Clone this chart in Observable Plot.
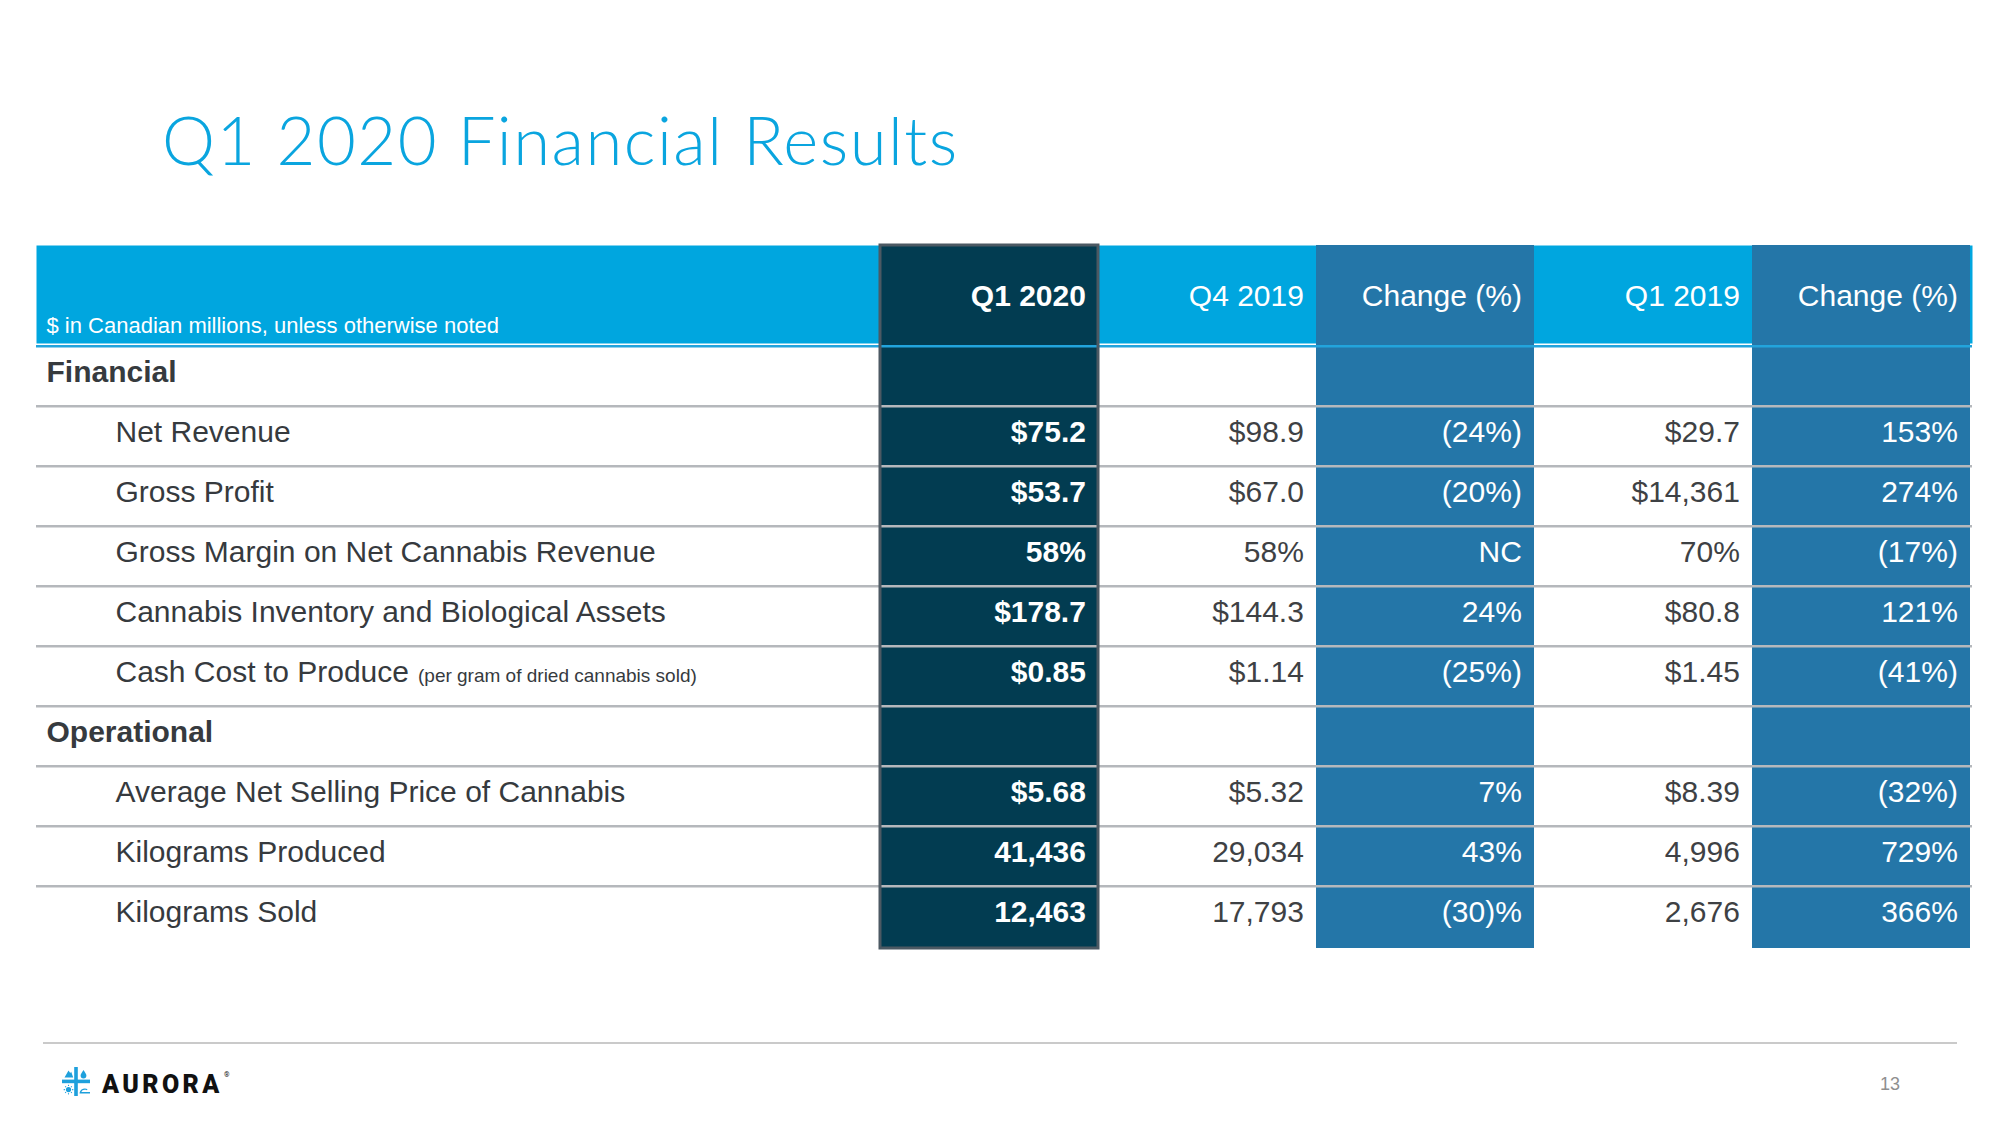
<!DOCTYPE html>
<html>
<head>
<meta charset="utf-8">
<script src="https://cdn.jsdelivr.net/npm/d3@7"></script>
<script src="https://cdn.jsdelivr.net/npm/@observablehq/plot@0.6"></script>
<style>
  html, body { margin: 0; padding: 0; background: #fff; }
  #page { position: relative; width: 2000px; height: 1125px; overflow: hidden; background: #fff; }
  #title { position: absolute; left: 162px; top: 106px; font-family: Lato, "Open Sans", sans-serif; font-weight: 300; font-size: 67px; line-height: 66px; letter-spacing: 1.5px; color: #0aa5df; white-space: nowrap; }
  #table { position: absolute; left: 0; top: 245px; }
  #rule { position: absolute; left: 43px; top: 1042px; width: 1914px; height: 2px; background: #cacaca; }
  #pagenum { position: absolute; left: 1880px; top: 1075px; font-family: "Liberation Sans", Arial, sans-serif; font-size: 18px; line-height: 18px; color: #8f8f8f; }
  #logo { position: absolute; left: 60px; top: 1064px; }
</style>
</head>
<body>
<div id="page">
  <div id="title">Q1 2020 Financial Results</div>
  <div id="table"></div>
  <div id="rule"></div>
  <svg id="logo" width="200" height="36" viewBox="0 0 200 36">
    <g fill="#1ea0dc">
      <rect x="14.2" y="3" width="3.6" height="29"></rect>
      <rect x="2" y="15.6" width="28" height="3.6"></rect>
      <path d="M4.5 13.5 L8.5 6.5 L10.2 9 L11.2 7.8 L13.2 13.5 Z"></path>
      <path d="M23.5 6 C25.5 9 26.4 10.3 26.4 11.6 A2.9 2.9 0 0 1 20.6 11.6 C20.6 10.3 21.5 9 23.5 6 Z"></path>
      <circle cx="8.5" cy="25.6" r="2.6"></circle>
      <path d="M19.6 28.8 C20.2 24.8 24.8 23.4 27.6 25.2 L26.6 26.2 C24.6 25.2 22 25.8 21.4 28 L30 28 L30 29.4 L19.6 29.4 Z"></path>
    </g>
    <g stroke="#1ea0dc" stroke-width="1.1">
      <line x1="8.5" y1="20.8" x2="8.5" y2="22"></line>
      <line x1="8.5" y1="29.2" x2="8.5" y2="30.4"></line>
      <line x1="3.7" y1="25.6" x2="4.9" y2="25.6"></line>
      <line x1="12.1" y1="25.6" x2="13.3" y2="25.6"></line>
      <line x1="5.2" y1="22.3" x2="6" y2="23.1"></line>
      <line x1="11" y1="28.1" x2="11.8" y2="28.9"></line>
      <line x1="11.8" y1="22.3" x2="11" y2="23.1"></line>
      <line x1="6" y1="28.1" x2="5.2" y2="28.9"></line>
    </g>
    <text x="42" y="28.5" font-family="Roboto, 'DejaVu Sans', sans-serif" font-weight="900" font-size="25" letter-spacing="3.4" fill="#111">AURORA</text>
    <text x="164" y="13" font-family="Roboto, sans-serif" font-size="7" fill="#111">®</text>
  </svg>
  <div id="pagenum">13</div>
</div>
<script>
// ---------------- data ----------------
const subtitle = "$ in Canadian millions, unless otherwise noted";
const colKeys = ["q1_2020", "q4_2019", "chg_q4", "q1_2019", "chg_q1"];
const colHeaders = ["Q1 2020", "Q4 2019", "Change (%)", "Q1 2019", "Change (%)"];
const colKinds = ["current", "prior", "change", "prior", "change"];

const rowLabels = [
  "Financial",
  "Net Revenue",
  "Gross Profit",
  "Gross Margin on Net Cannabis Revenue",
  "Cannabis Inventory and Biological Assets",
  "Cash Cost to Produce",
  "Operational",
  "Average Net Selling Price of Cannabis",
  "Kilograms Produced",
  "Kilograms Sold"
];
const sectionRows = ["Financial", "Operational"];
const rowNotes = ["", "", "", "", "", "(per gram of dried cannabis sold)", "", "", "", ""];

const q1_2020 = ["", "$75.2", "$53.7", "58%", "$178.7", "$0.85", "", "$5.68", "41,436", "12,463"];
const q4_2019 = ["", "$98.9", "$67.0", "58%", "$144.3", "$1.14", "", "$5.32", "29,034", "17,793"];
const chg_q4  = ["", "(24%)", "(20%)", "NC", "24%", "(25%)", "", "7%", "43%", "(30)%"];
const q1_2019 = ["", "$29.7", "$14,361", "70%", "$80.8", "$1.45", "", "$8.39", "4,996", "2,676"];
const chg_q1  = ["", "153%", "274%", "(17%)", "121%", "(41%)", "", "(32%)", "729%", "366%"];
const columnValues = [q1_2020, q4_2019, chg_q4, q1_2019, chg_q1];

// ---------------- styling / layout ----------------
const CYAN = "#00a6df", DARK = "#023c51", MID = "#2476a8", BORDER = "#4c5963";
const LINE = "#b5b8bc", HEADLINE = "#22a4dc", TEXT = "#363a3e";
const FONT = "'Liberation Sans', Arial, Helvetica, sans-serif";
const W = 2000, tableLeft = 36, marginLeft = 878, marginRight = 28;
const headerH = 98, bodyH = 605;
const rowH = bodyH / rowLabels.length;
const bw = (W - marginLeft - marginRight) / colKeys.length;
const padR = 13;
const toLeft = x => x - marginLeft; // offset from frame left

const cells = rowLabels.flatMap((row, i) =>
  colKeys.map((col, j) => ({row, col, kind: colKinds[j], value: columnValues[j][i]}))
).filter(d => d.value !== "");
const headers = colKeys.map((col, j) => ({col, label: colHeaders[j], kind: colKinds[j]}));
const items = rowLabels.map((label, i) => ({label, note: rowNotes[i], section: sectionRows.includes(label)}));

// measure label width for the inline note
const ctx = document.createElement("canvas").getContext("2d");
ctx.font = `30px ${FONT}`;

const bodyText = {fontSize: 30, lineAnchor: "bottom", dy: 5};

const plot = Plot.plot({
  width: W,
  height: headerH + bodyH,
  marginLeft, marginRight, marginTop: headerH, marginBottom: 0,
  style: {background: "transparent", fontFamily: FONT, overflow: "visible"},
  x: {type: "band", domain: colKeys, padding: 0, axis: null},
  y: {type: "band", domain: rowLabels, padding: 0, axis: null},
  marks: [
    // header band across the whole table
    Plot.frame({fill: CYAN, stroke: "none", insetTop: -headerH, insetBottom: bodyH, insetLeft: -(marginLeft - tableLeft)}),
    // coloured column strips
    Plot.cell(headers.filter(d => d.kind === "current"), {x: "col", fill: DARK, insetTop: -headerH}),
    Plot.cell(headers.filter(d => d.kind === "change"), {x: "col", fill: MID, insetTop: -headerH}),
    // row separators
    Plot.ruleY(items.slice(1), {y: "label", dy: -rowH / 2, stroke: LINE, strokeWidth: 2.5, insetLeft: -(marginLeft - tableLeft)}),
    Plot.ruleY(items.slice(0, 1), {y: "label", dy: -rowH / 2, stroke: HEADLINE, strokeWidth: 2.5, insetLeft: -(marginLeft - tableLeft)}),
    // border of the current-quarter column
    Plot.cell(headers.filter(d => d.kind === "current"), {x: "col", fill: "none", stroke: BORDER, strokeWidth: 3, insetTop: -headerH}),
    // header labels
    Plot.text(headers.filter(d => d.kind === "current"), {x: "col", text: "label", frameAnchor: "top", lineAnchor: "bottom", dy: -38, textAnchor: "end", dx: bw / 2 - padR, fill: "white", fontSize: 30, fontWeight: "bold"}),
    Plot.text(headers.filter(d => d.kind !== "current"), {x: "col", text: "label", frameAnchor: "top", lineAnchor: "bottom", dy: -38, textAnchor: "end", dx: bw / 2 - padR, fill: "white", fontSize: 30}),
    Plot.text([subtitle], {text: d => d, frameAnchor: "top-left", lineAnchor: "bottom", textAnchor: "start", dx: toLeft(46), dy: -11, fill: "white", fontSize: 22}),
    // row labels
    Plot.text(items.filter(d => d.section), {y: "label", text: "label", frameAnchor: "left", textAnchor: "start", dx: toLeft(46), fill: TEXT, fontWeight: "bold", ...bodyText}),
    Plot.text(items.filter(d => !d.section), {y: "label", text: "label", frameAnchor: "left", textAnchor: "start", dx: toLeft(115), fill: TEXT, ...bodyText}),
    ...items.filter(d => d.note).map(d =>
      Plot.text([d], {y: "label", text: "note", frameAnchor: "left", textAnchor: "start", dx: toLeft(115 + ctx.measureText(d.label).width + 9), fill: TEXT, fontSize: 19, lineAnchor: "bottom", dy: 5})
    ),
    // values
    Plot.text(cells.filter(d => d.kind === "current"), {x: "col", y: "row", text: "value", textAnchor: "end", dx: bw / 2 - padR, fill: "white", fontWeight: "bold", ...bodyText}),
    Plot.text(cells.filter(d => d.kind === "change"), {x: "col", y: "row", text: "value", textAnchor: "end", dx: bw / 2 - padR, fill: "white", ...bodyText}),
    Plot.text(cells.filter(d => d.kind === "prior"), {x: "col", y: "row", text: "value", textAnchor: "end", dx: bw / 2 - padR, fill: "#3e4144", ...bodyText})
  ]
});
document.getElementById("table").appendChild(plot);
</script>
</body>
</html>
